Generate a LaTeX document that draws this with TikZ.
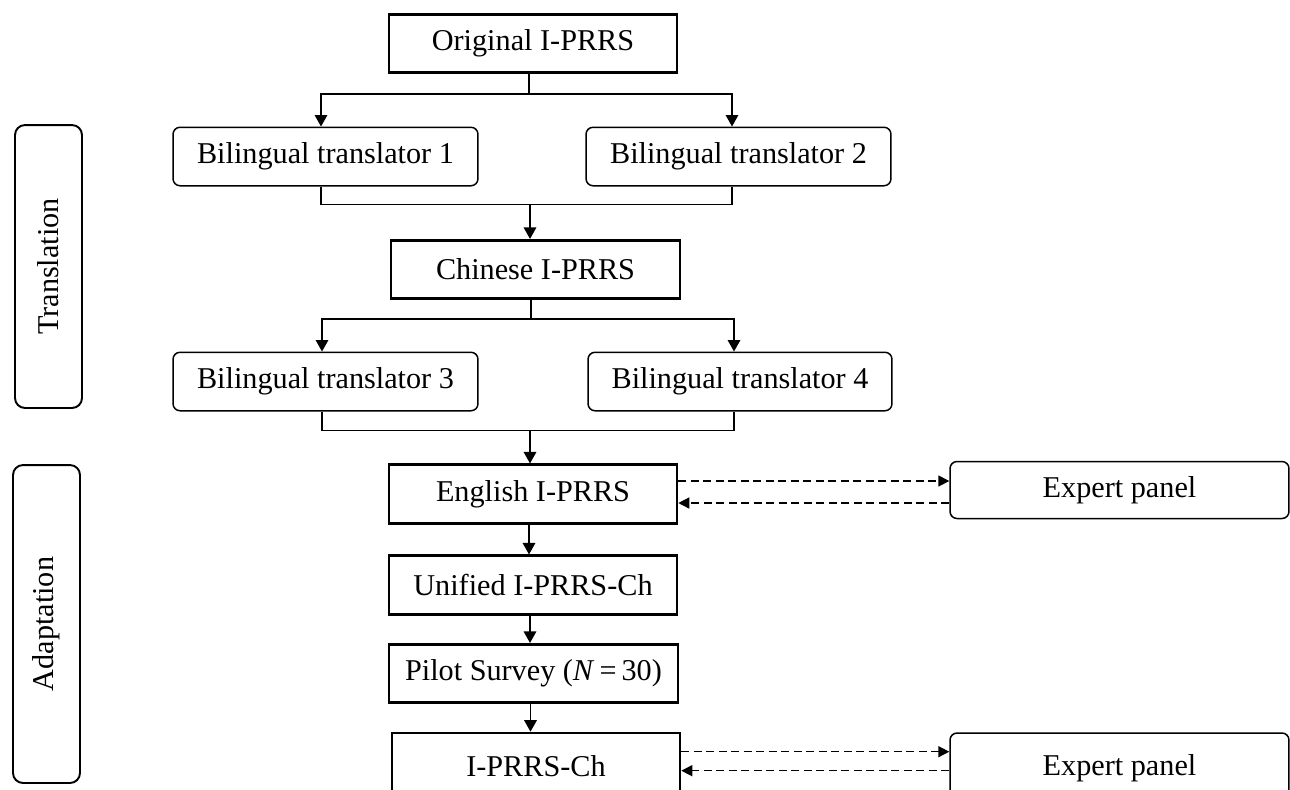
\documentclass[tikz,border=0pt]{standalone}
\usepackage{fontspec}
\setmainfont{Liberation Serif}
\usetikzlibrary{arrows.meta,calc}
\begin{document}
\begin{tikzpicture}[x=0.02cm,y=-0.02cm,
  every node/.style={font=\fontsize{17.2}{20}\selectfont, inner sep=0pt, align=center},
  thickbox/.style={draw, line width=1.5pt, minimum height=1.17cm},
  roundbox/.style={draw, line width=0.85pt, rounded corners=0.14cm, minimum height=1.17cm},
  sidebox/.style={draw, line width=1.1pt, rounded corners=0.2cm, minimum width=1.34cm},
  conn/.style={line width=0.9pt},
  arr/.style={conn, -{Triangle[length=0.23cm,width=0.25cm]}},
  darr/.style={line width=0.85pt, dash pattern=on 0.16cm off 0.09cm, -{Triangle[length=0.22cm,width=0.22cm]}}
]
\clip (0,0) rectangle (1290,789);
\fill[white] (0,0) rectangle (1290,789);

% side labels
\node[sidebox, minimum height=5.66cm] (trans) at (48.5,266.5) {};
\node[rotate=90] (transt) at (trans.center) {Translation};
\node[sidebox, minimum height=6.36cm] (adapt) at (46.5,624) {};
\node[rotate=90] (adaptt) at (adapt.center) {Adaptation};

% main nodes
\node[thickbox, minimum width=5.76cm] (orig) at (533,43.5) {Original I-PRRS};
\node[roundbox, minimum width=6.1cm] (bt1) at (325.5,156.5) {Bilingual translator 1};
\node[roundbox, minimum width=6.1cm] (bt2) at (738.5,156.5) {Bilingual translator 2};
\node[thickbox, minimum width=5.78cm] (chin) at (535.5,269.5) {Chinese I-PRRS};
\node[roundbox, minimum width=6.1cm] (bt3) at (325.5,381.5) {Bilingual translator 3};
\node[roundbox, minimum width=6.08cm] (bt4) at (740,381.5) {Bilingual translator 4};
\node[thickbox, minimum width=5.76cm] (eng) at (533,494) {English I-PRRS};
\node[thickbox, minimum width=5.76cm] (uni) at (533,585) {Unified I-PRRS-Ch};
\node[thickbox, minimum width=5.78cm] (pilot) at (533.5,673.5) {Pilot Survey (\textit{N}\,=\,30)};
\node[thickbox, minimum width=5.76cm, minimum height=1.32cm] (fin) at (536,766) {I-PRRS-Ch};
\node[roundbox, minimum width=6.78cm, minimum height=1.14cm] (exp1) at (1119.5,490) {Expert panel};
\node[roundbox, minimum width=6.78cm, minimum height=1.4cm] (exp2) at (1119.5,768) {Expert panel};

% translation stage connectors
\coordinate (s1) at ($(orig.south)+(-4,20)$);
\draw[conn] (s1 |- orig.south) -- (s1);
\draw[arr] (s1) -| ([xshift=-0.09cm]bt1.north);
\draw[arr] (s1) -| ([xshift=-0.13cm]bt2.north);
\coordinate (j1) at ($(bt1.south)+(204.5,18)$);
\draw[conn] ([xshift=-0.09cm]bt1.south) |- (j1) -| ([xshift=-0.13cm]bt2.south);
\draw[arr] (j1) -- (j1 |- chin.north);

\coordinate (s2) at ($(chin.south)+(-4.5,19)$);
\draw[conn] (s2 |- chin.south) -- (s2);
\draw[arr] (s2) -| ([xshift=-0.07cm]bt3.north);
\draw[arr] (s2) -| ([xshift=-0.12cm]bt4.north);
\coordinate (j2) at ($(bt3.south)+(204.5,19)$);
\draw[conn] ([xshift=-0.07cm]bt3.south) |- (j2) -| ([xshift=-0.12cm]bt4.south);
\draw[arr] (j2) -- (j2 |- eng.north);

% adaptation stage
\draw[arr] ([xshift=-0.08cm]eng.south) -- ([xshift=-0.08cm]uni.north);
\draw[arr] ([xshift=-0.06cm]uni.south) -- ([xshift=-0.06cm]uni.south |- pilot.north);
\draw[arr] ([xshift=-0.06cm]pilot.south) -- ([xshift=-0.06cm]pilot.south |- fin.north);

% expert panel loops
\coordinate (a1) at ($(eng.east)+(0,-13)$);
\coordinate (a2) at ($(eng.east)+(0,9)$);
\draw[darr] (a1) -- (a1 -| exp1.west);
\draw[darr] (a2 -| exp1.west) -- (a2);
\coordinate (b1) at ($(fin.north east)+(0,20)$);
\coordinate (b2) at ($(fin.north east)+(0,39)$);
\draw[darr] (b1) -- (b1 -| exp2.west);
\draw[darr] (b2 -| exp2.west) -- (b2);
\end{tikzpicture}
\end{document}
